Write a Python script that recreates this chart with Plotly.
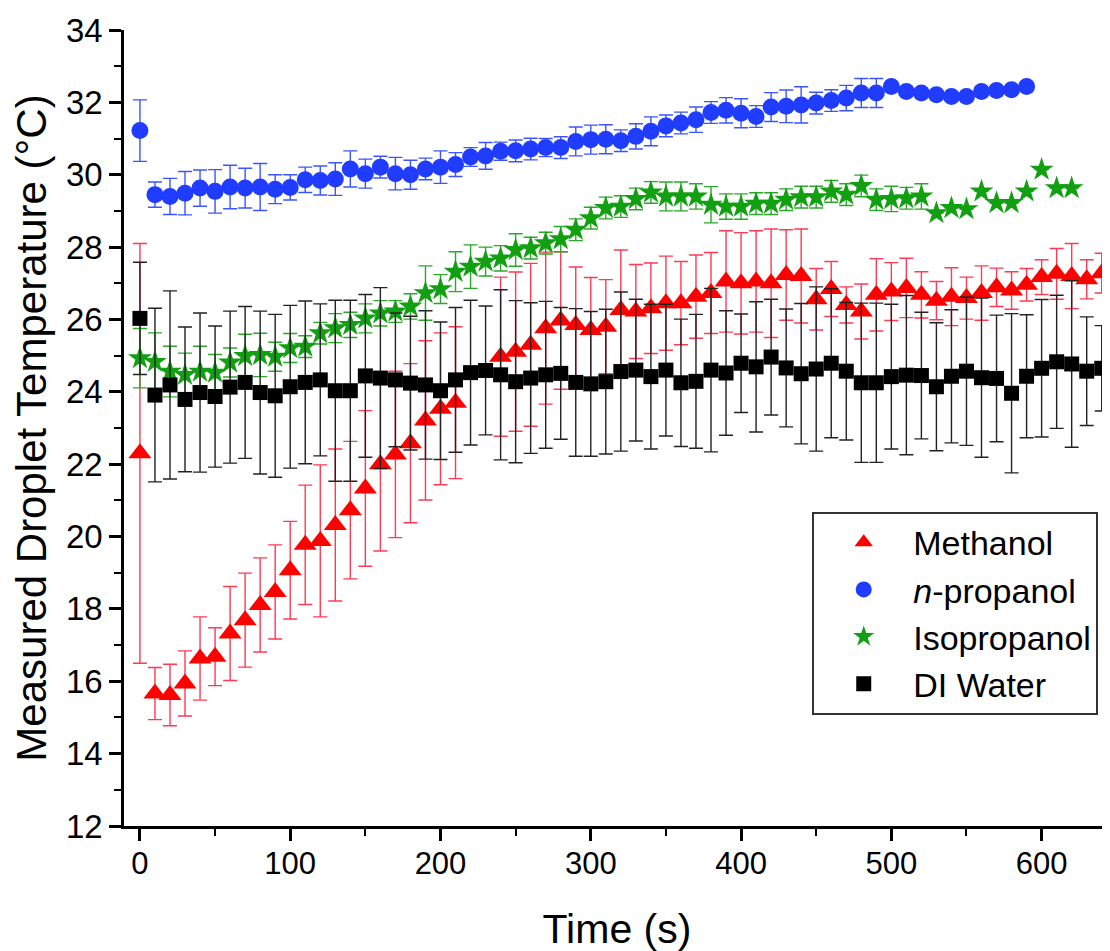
import plotly.graph_objects as go

# ---- data ----
time_s = [0, 10, 20, 30, 40, 50, 60, 70, 80, 90, 100, 110, 120, 130, 140, 150, 160, 170, 180, 190,
          200, 210, 220, 230, 240, 250, 260, 270, 280, 290, 300, 310, 320, 330, 340, 350, 360, 370, 380, 390,
          400, 410, 420, 430, 440, 450, 460, 470, 480, 490, 500, 510, 520, 530, 540, 550, 560, 570, 580, 590,
          600, 610, 620, 630, 640]

methanol = [22.30, 15.66, 15.62, 15.94, 16.63, 16.68, 17.32, 17.69, 18.11, 18.47, 19.07, 19.77, 19.88, 20.32,
            20.73, 21.33, 22.00, 22.27, 22.58, 23.21, 23.53, 23.70, None, None, 24.97, 25.11, 25.30, 25.76,
            25.97, 25.85, 25.71, 25.80, 26.26, 26.22, 26.31, 26.45, 26.45, 26.63, 26.73, 27.05, 27.00, 27.05,
            27.00, 27.23, 27.20, 26.56, 26.84, 26.40, 26.22, 26.68, 26.77, 26.87, 26.68, 26.52, 26.63, 26.59,
            26.73, 26.89, 26.80, 26.96, 27.17, 27.26, 27.20, 27.11, 27.28]
methanol_err = [5.8, 0.72, 0.85, 0.9, 1.15, 0.8, 1.3, 1.3, 1.3, 1.3, 1.35, 1.65, 2.1, 2.1, 1.9, 2.15, 2.4, 2.3,
                2.2, 2.2, 2.1, 2.1, None, None, 2.2, 2.2, 2.25, 2.1, 1.9, 1.6, 1.45, 1.3, 1.66, 1.3, 1.25, 1.3,
                1.15, 1.15, 1.12, 1.4, 1.4, 1.4, 1.5, 1.25, 1.3, 0.85, 0.76, 0.5, 0.76, 1.0, 0.8, 0.82, 0.64,
                0.53, 0.8, 0.58, 0.75, 0.53, 0.52, 0.45, 0.48, 0.7, 0.9, 0.54, 0.55]

n_propanol = [31.22, 29.45, 29.40, 29.49, 29.63, 29.54, 29.66, 29.63, 29.66, 29.60, 29.65, 29.86, 29.84, 29.88,
              30.16, 30.03, 30.21, 30.03, 30.00, 30.16, 30.21, 30.28, 30.49, 30.52, 30.65, 30.66, 30.71, 30.75,
              30.75, 30.92, 30.97, 30.98, 30.94, 31.06, 31.20, 31.35, 31.43, 31.52, 31.72, 31.78, 31.70, 31.61,
              31.87, 31.89, 31.93, 31.98, 32.05, 32.12, 32.26, 32.26, 32.44, 32.30, 32.26, 32.21, 32.16, 32.16,
              32.30, 32.33, 32.35, 32.44]
n_propanol_err = [0.85, 0.35, 0.5, 0.6, 0.5, 0.6, 0.6, 0.55, 0.65, 0.4, 0.35, 0.35, 0.4, 0.45, 0.5, 0.4, 0.3,
                  0.45, 0.4, 0.3, 0.45, 0.33, 0.26, 0.37, 0.25, 0.3, 0.3, 0.25, 0.3, 0.4, 0.4, 0.4, 0.3, 0.35,
                  0.4, 0.3, 0.3, 0.35, 0.3, 0.35, 0.4, 0.3, 0.4, 0.45, 0.5, 0.3, 0.3, 0.35, 0.4, 0.4, 0.1, 0.1,
                  0.1, 0.1, 0.1, 0.1, 0.1, 0.1, 0.1, 0.1]

isopropanol = [24.93, 24.83, 24.56, 24.47, 24.56, 24.53, 24.81, 24.99, 25.02, 24.97, 25.21, 25.25, 25.62, 25.76,
               25.85, 26.03, 26.17, 26.22, 26.36, 26.73, 26.84, 27.32, 27.46, 27.60, 27.69, 27.92, 27.97, 28.11,
               28.22, 28.48, 28.80, 29.08, 29.12, 29.33, 29.51, 29.40, 29.40, 29.40, 29.17, 29.12, 29.12, 29.20,
               29.20, 29.31, 29.38, 29.38, 29.54, 29.45, 29.69, 29.31, 29.33, 29.35, 29.40, 28.94, 29.08, 29.05,
               29.54, 29.22, 29.22, 29.54, 30.14, 29.63, 29.63]
isopropanol_err = [0.82, 0.8, 0.7, 0.6, 0.7, 0.5, 0.4, 0.6, 0.6, 0.4, 0.4, 0.3, 0.3, 0.4, 0.35, 0.4, 0.35, 0.3,
                   0.35, 0.75, 0.4, 0.55, 0.6, 0.4, 0.35, 0.45, 0.3, 0.3, 0.35, 0.3, 0.3, 0.3, 0.3, 0.3, 0.3,
                   0.4, 0.4, 0.35, 0.5, 0.35, 0.35, 0.3, 0.3, 0.3, 0.3, 0.3, 0.3, 0.3, 0.3, 0.3, 0.35, 0.3, 0.35,
                   0.0, 0.0, 0.0, 0.0, 0.0, 0.0, 0.0, 0.0, 0.0, 0.0]

di_water = [26.03, 23.91, 24.19, 23.79, 23.98, 23.87, 24.13, 24.26, 23.98, 23.89, 24.14, 24.26, 24.33, 24.03,
            24.03, 24.44, 24.38, 24.33, 24.24, 24.19, 24.03, 24.33, 24.53, 24.59, 24.47, 24.28, 24.38, 24.47,
            24.51, 24.26, 24.22, 24.28, 24.56, 24.60, 24.42, 24.60, 24.25, 24.29, 24.60, 24.52, 24.79, 24.69,
            24.96, 24.66, 24.50, 24.63, 24.79, 24.57, 24.25, 24.25, 24.42, 24.46, 24.45, 24.14, 24.43, 24.57,
            24.39, 24.37, 23.96, 24.43, 24.65, 24.83, 24.77, 24.57, 24.65]
di_water_err = [1.55, 2.4, 2.6, 2.0, 2.2, 1.95, 2.1, 2.1, 2.25, 2.25, 2.25, 2.25, 2.1, 2.5, 2.5, 2.25, 2.5, 1.85,
                1.85, 2.05, 1.9, 2.0, 2.0, 1.78, 2.35, 2.24, 2.08, 2.03, 1.82, 2.04, 2.0, 2.0, 2.2, 1.96, 2.0,
                1.82, 1.76, 1.85, 2.26, 1.72, 1.36, 1.8, 1.6, 1.63, 1.94, 2.27, 2.06, 1.9, 2.2, 2.2, 2.0, 2.2,
                1.75, 1.77, 1.84, 2.05, 2.2, 1.75, 2.2, 1.7, 1.9, 1.84, 2.3, 1.5, 1.18]

series_names = ["Methanol", "<i>n</i>-propanol", "Isopropanol", "DI Water"]
x_ticks = [0, 100, 200, 300, 400, 500, 600]
y_ticks = [12, 14, 16, 18, 20, 22, 24, 26, 28, 30, 32, 34]

FONT = "Liberation Sans, Arial, Helvetica, sans-serif"

fig = go.Figure()

def add(name, y, err, color, errcolor, symbol, size):
    fig.add_trace(go.Scatter(
        x=time_s[:len(y)], y=y, mode="markers", name=name,
        marker=dict(symbol=symbol, size=size, color=color, line=dict(width=0)),
        error_y=dict(type="data", array=err, visible=True, color=errcolor, thickness=1.4, width=7),
    ))

add(series_names[0], methanol, methanol_err, "#ff0000", "#ff3a55", "triangle-up", 20)
add(series_names[1], n_propanol, n_propanol_err, "#1f3cff", "#3a55ff", "circle", 17)
add(series_names[2], isopropanol, isopropanol_err, "#12a012", "#2aa82a", "star", 18)
add(series_names[3], di_water, di_water_err, "#000000", "#222222", "square", 15)

axis_common = dict(
    showgrid=False, zeroline=False, showline=True, linecolor="black", linewidth=2.5,
    ticks="outside", ticklen=12, tickwidth=2.5, tickcolor="black", automargin=False,
)

fig.update_layout(
    width=1110, height=951,
    margin=dict(l=116, r=8, t=22, b=133, autoexpand=False),
    paper_bgcolor="white", plot_bgcolor="white",
    font=dict(family=FONT, color="black"),
    xaxis=dict(
        range=[-10.6, 645.5], tickvals=x_ticks,
        tickfont=dict(size=31, family=FONT), ticklabelstandoff=-4,
        title=dict(text="Time (s)", font=dict(size=41, family=FONT), standoff=35),
        minor=dict(dtick=50, tick0=0, ticks="outside", ticklen=7, tickwidth=2, tickcolor="black"),
        **axis_common,
    ),
    yaxis=dict(
        range=[12, 34], tickvals=y_ticks,
        tickfont=dict(size=33, family=FONT),
        title=dict(text="Measured Droplet Temperature (°C)", font=dict(size=42, family=FONT), standoff=19),
        minor=dict(dtick=1, tick0=0, ticks="outside", ticklen=7, tickwidth=2, tickcolor="black"),
        **axis_common,
    ),
    legend=dict(
        x=0.698, y=0.395, xanchor="left", yanchor="top",
        bgcolor="white", bordercolor="#333333", borderwidth=2,
        font=dict(size=34, family=FONT, color="black"),
        itemwidth=89, tracegroupgap=0,
        entrywidth=320, entrywidthmode="pixels",
    ),
    showlegend=True,
)

fig.write_html("out.html")
